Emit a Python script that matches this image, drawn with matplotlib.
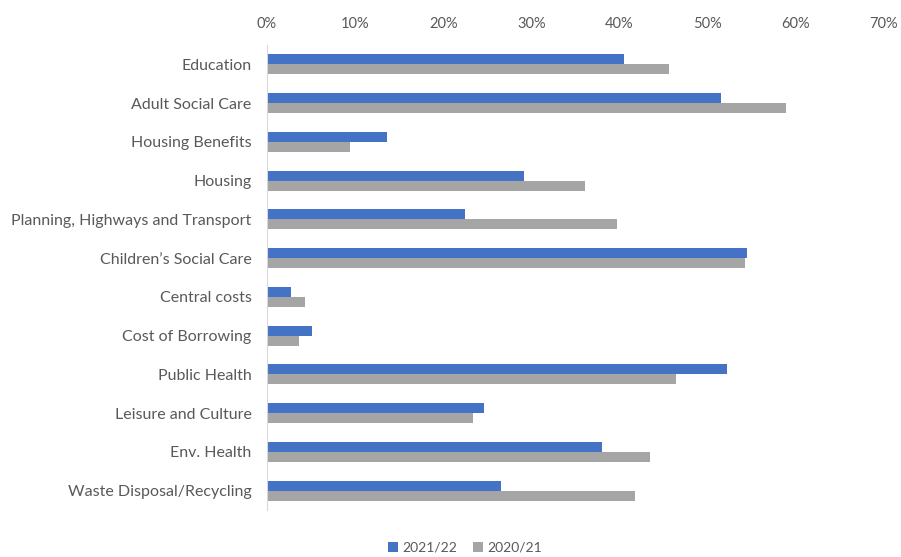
import matplotlib
matplotlib.use("Agg")
import matplotlib.pyplot as plt
import numpy as np
from matplotlib.ticker import PercentFormatter

categories = [
    "Education", "Adult Social Care", "Housing Benefits", "Housing",
    "Planning, Highways and Transport", "Children\u2019s Social Care",
    "Central costs", "Cost of Borrowing", "Public Health",
    "Leisure and Culture", "Env. Health", "Waste Disposal/Recycling",
]
y2021_22 = [40.5, 51.5, 13.6, 29.2, 22.5, 54.5, 2.7, 5.1, 52.2, 24.6, 38.0, 26.6]
y2020_21 = [45.6, 58.9, 9.4, 36.1, 39.7, 54.2, 4.3, 3.6, 46.4, 23.4, 43.5, 41.8]

plt.rcParams["font.family"] = ["Lato", "DejaVu Sans"]
text_col = "#595959"

fig = plt.figure(figsize=(9.01, 5.57), dpi=100)
ax = fig.add_axes([267 / 901, 1 - 510 / 557, (884 - 267) / 901, (510 - 45) / 557])

y = np.arange(len(categories))
h = 0.26
ax.barh(y - h / 2, y2021_22, height=h, color="#4472C4", label="2021/22")
ax.barh(y + h / 2, y2020_21, height=h, color="#A5A5A5", label="2020/21")

ax.set_xlim(0, 70)
ax.set_ylim(len(categories) - 0.5, -0.5)
ax.xaxis.set_major_formatter(PercentFormatter(decimals=0))
ax.set_xticks(np.arange(0, 71, 10))
ax.xaxis.tick_top()
ax.set_yticks(y)
ax.set_yticklabels(categories)
ax.tick_params(axis="x", length=0, labelsize=10.5, colors=text_col, pad=10)
ax.tick_params(axis="y", length=0, labelsize=11.5, colors=text_col, pad=11)

for side in ["top", "right", "bottom"]:
    ax.spines[side].set_visible(False)
ax.spines["left"].set_color("#d9d9d9")

ax.legend(loc="center", bbox_to_anchor=(465 / 901, 1 - 548 / 557),
          bbox_transform=fig.transFigure, ncol=2, frameon=False,
          fontsize=10, labelcolor=text_col, handlelength=0.7,
          handleheight=0.7, handletextpad=0.3, columnspacing=1.2)

fig.savefig("out.png", dpi=100)
